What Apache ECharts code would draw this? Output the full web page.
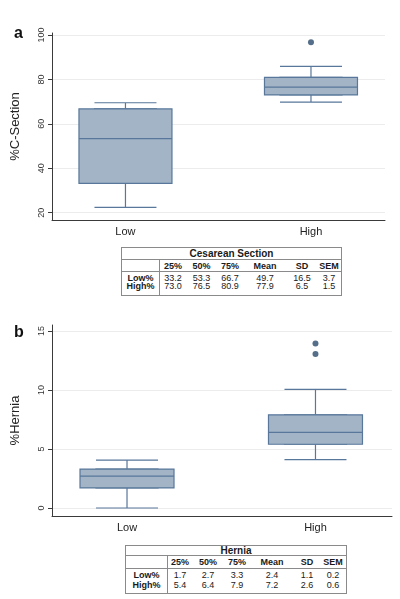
<!DOCTYPE html>
<html>
<head>
<meta charset="utf-8">
<script src="https://cdn.jsdelivr.net/npm/echarts@6/dist/echarts.min.js"></script>
<style>
  html, body { margin: 0; padding: 0; background: #fff; }
  #wrap { position: relative; width: 400px; height: 599px; font-family: "Liberation Sans", Arial, Helvetica, sans-serif; }
  #chart { position: absolute; left: 0; top: 0; width: 400px; height: 599px; }
  .tbl { position: absolute; border: 1px solid #8a8a8a; box-sizing: border-box; color: #1a1a1a; background: #fff; }
  .row { display: flex; box-sizing: border-box; }
  .cell { box-sizing: border-box; text-align: center; font-size: 9px; white-space: nowrap; overflow: visible; }
  .lab { border-right: 1px solid #8a8a8a; font-weight: bold; }
  .hdr { font-weight: bold; }
  .ttl { font-weight: bold; font-size: 10px; text-align: center; border-bottom: 1px solid #8a8a8a; }
  .hrow { border-bottom: 1px solid #8a8a8a; }
</style>
</head>
<body>
<div id="wrap">
  <div id="chart"></div>
</div>
<script>
// ---------- data ----------
const categories = ['Low', 'High'];

// Panel a: % C-Section  [min, Q1, median, Q3, max]
const csLow  = [22.4, 33.2, 53.3, 66.7, 69.5];
const csHigh = [69.8, 73.0, 76.5, 80.9, 85.9];
const csOutliers = [[1, 96.7]];
const csTicks = [20, 40, 60, 80, 100];

// Panel b: % Hernia
const hLow  = [0.0, 1.7, 2.7, 3.3, 4.05];
const hHigh = [4.1, 5.4, 6.4, 7.9, 10.05];
const hOutliers = [[1, 13.95], [1, 13.05]];
const hTicks = [0, 5, 10, 15];

// Tables
const statHeaders = ['25%', '50%', '75%', 'Mean', 'SD', 'SEM'];
const rowLabels = ['Low%', 'High%'];
const csStatsLow  = [33.2, 53.3, 66.7, 49.7, 16.5, 3.7];
const csStatsHigh = [73.0, 76.5, 80.9, 77.9, 6.5, 1.5];
const hStatsLow  = [1.7, 2.7, 3.3, 2.4, 1.1, 0.2];
const hStatsHigh = [5.4, 6.4, 7.9, 7.2, 2.6, 0.6];

// ---------- styling ----------
const FONT = '"Liberation Sans", Arial, Helvetica, sans-serif';
const FILL = '#a2b4c6';
const LINE = '#58779a';
const DOT = '#2b4a6b';
const AXIS = '#3a3a3a';

function withIndex(rows) { return rows.map((r, i) => [i].concat(r)); }
function boxOnly(rows) { return rows.map((r, i) => [i, r[1], r[1], r[2], r[3], r[3]]); }

function xAxisDef(gridIndex, min, max, visible) {
  return {
    type: 'value', gridIndex, min, max, show: visible,
    axisLine: { show: true, onZero: false, lineStyle: { color: AXIS, width: 1 } },
    axisTick: { show: false },
    splitLine: { show: false },
    axisLabel: {
      customValues: categories.map((c, i) => i),
      formatter: v => categories[Math.round(v)] || '',
      fontFamily: FONT, fontSize: 11, color: '#222', margin: 6
    }
  };
}
function yAxisDef(gridIndex, min, max, ticks, name) {
  return {
    type: 'value', gridIndex, min, max,
    name, nameLocation: 'middle', nameRotate: 90, nameGap: 30,
    nameTextStyle: { fontFamily: FONT, fontSize: 13, color: '#222' },
    axisLine: { show: true, onZero: false, lineStyle: { color: AXIS, width: 1 } },
    axisTick: { show: true, customValues: ticks, length: 4, lineStyle: { color: AXIS } },
    axisLabel: { customValues: ticks, rotate: 90, fontFamily: FONT, fontSize: 9, color: '#333', margin: 6 },
    splitLine: { show: true, lineStyle: { color: '#ececec', width: 1 } }
  };
}
function seriesFor(xBox, xCap, yIdx, rows, outliers, boxW, capW) {
  return [
    { type: 'boxplot', xAxisIndex: xCap, yAxisIndex: yIdx, z: 2, boxWidth: [capW, capW],
      data: withIndex(rows), silent: true,
      itemStyle: { color: FILL, borderColor: LINE, borderWidth: 1.2 } },
    { type: 'boxplot', xAxisIndex: xBox, yAxisIndex: yIdx, z: 3, boxWidth: [boxW, boxW],
      data: boxOnly(rows), silent: true,
      itemStyle: { color: FILL, borderColor: LINE, borderWidth: 1.2 } },
    { type: 'scatter', xAxisIndex: xBox, yAxisIndex: yIdx, z: 4, symbolSize: 6,
      data: outliers, itemStyle: { color: DOT } }
  ];
}

const chart = echarts.init(document.getElementById('chart'), null, { renderer: 'canvas' });
chart.setOption({
  animation: false,
  backgroundColor: '#fff',
  title: [
    { text: 'a', left: 9, top: 21, textStyle: { fontFamily: FONT, fontSize: 16, fontWeight: 'bold', color: '#111' } },
    { text: 'b', left: 9, top: 320, textStyle: { fontFamily: FONT, fontSize: 16, fontWeight: 'bold', color: '#111' } }
  ],
  grid: [
    { left: 52, top: 33, width: 333, height: 187 },
    { left: 52, top: 325, width: 340, height: 191 }
  ],
  xAxis: [
    xAxisDef(0, -0.396, 1.399, true),
    xAxisDef(0, -0.396, 1.399, false),
    xAxisDef(1, -0.398, 1.406, true),
    xAxisDef(1, -0.398, 1.406, false)
  ],
  yAxis: [
    yAxisDef(0, 16.7, 100.9, csTicks, '%C-Section'),
    yAxisDef(1, -0.68, 15.51, hTicks, '%Hernia')
  ],
  series: [].concat(
    seriesFor(0, 1, 0, [csLow, csHigh], csOutliers, 93, 62),
    seriesFor(2, 3, 1, [hLow, hHigh], hOutliers, 94, 62)
  )
});

// ---------- tables ----------
function buildTable(cfg) {
  const t = document.createElement('div');
  t.className = 'tbl';
  Object.assign(t.style, { left: cfg.left + 'px', top: cfg.top + 'px', width: cfg.width + 'px', height: cfg.height + 'px' });
  const ttl = document.createElement('div');
  ttl.className = 'ttl';
  ttl.style.height = cfg.rows.title + 'px';
  ttl.style.lineHeight = cfg.rows.title + 'px';
  ttl.textContent = cfg.title;
  t.appendChild(ttl);
  function addRow(h, label, cells, cls) {
    const r = document.createElement('div');
    r.className = 'row' + (cls ? ' ' + cls : '');
    r.style.height = h + 'px';
    r.style.lineHeight = h + 'px';
    const l = document.createElement('div');
    l.className = 'cell lab';
    l.style.width = cfg.cols[0] + 'px';
    l.textContent = label;
    r.appendChild(l);
    cells.forEach((c, i) => {
      const d = document.createElement('div');
      d.className = 'cell' + (cls === 'hrow' ? ' hdr' : '');
      d.style.width = cfg.cols[i + 1] + 'px';
      d.textContent = c;
      r.appendChild(d);
    });
    t.appendChild(r);
  }
  const blanks = statHeaders.map(() => '');
  addRow(cfg.rows.header, '', statHeaders, 'hrow');
  addRow(cfg.rows.pad1, '', blanks);
  addRow(cfg.rows.r1, rowLabels[0], cfg.low.map(v => v.toFixed(1)));
  addRow(cfg.rows.r2, rowLabels[1], cfg.high.map(v => v.toFixed(1)));
  addRow(cfg.rows.pad2, '', blanks);
  document.getElementById('wrap').appendChild(t);
}
buildTable({
  title: 'Cesarean Section', left: 121, top: 247, width: 221, height: 49,
  cols: [38, 26, 31, 26, 44, 30, 24],
  rows: { title: 11, header: 12, pad1: 2, r1: 8, r2: 8, pad2: 5 },
  low: csStatsLow, high: csStatsHigh
});
buildTable({
  title: 'Hernia', left: 125, top: 545, width: 222, height: 49,
  cols: [42, 24, 32, 26, 44, 26, 26],
  rows: { title: 9, header: 13, pad1: 1, r1: 10, r2: 10, pad2: 3 },
  low: hStatsLow, high: hStatsHigh
});
</script>
</body>
</html>
